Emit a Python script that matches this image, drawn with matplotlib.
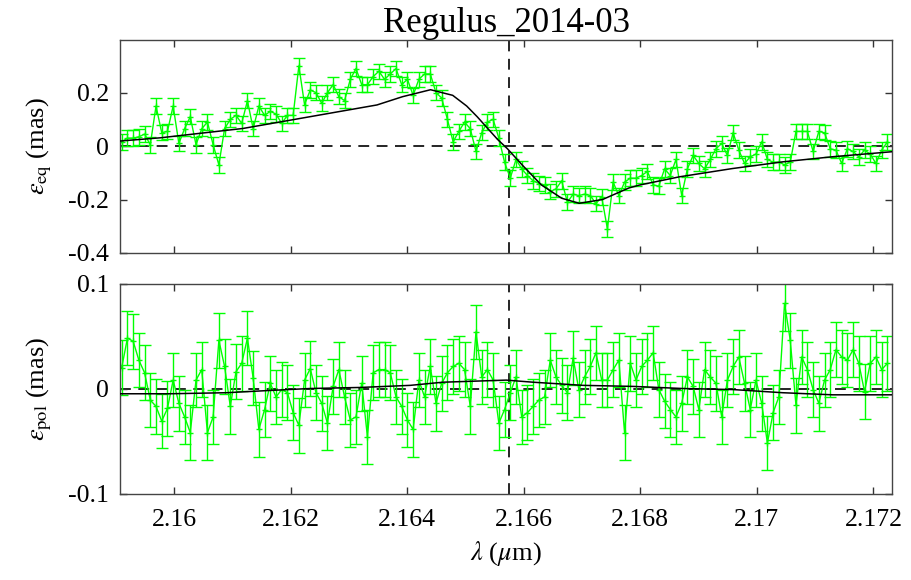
import numpy as np
import matplotlib
matplotlib.use("Agg")
import matplotlib.pyplot as plt
from matplotlib.ticker import FormatStrFormatter

plt.rcParams['font.family'] = ['Liberation Serif', 'DejaVu Serif']
plt.rcParams['mathtext.fontset'] = 'stix'
plt.rcParams['axes.unicode_minus'] = False

# wavelength grid (uniform spectral channels, µm)
wl_first = 2.1591
wl_last = 2.17224
n_chan = 135

# differential phase -> photocentre shift, equatorial component (mas)
eps_eq = [
    0.016, 0.03, 0.03, 0.035, 0.045, 0.005, 0.15, 0.05, 0.055, 0.15,
    0.01, 0.065, 0.11, 0.005, 0.065, 0.09, 0.005, -0.07, 0.065, 0.10,
    0.115, 0.085, 0.17, 0.065, 0.15, 0.115, 0.13, 0.12, 0.085, 0.115,
    0.115, 0.30, 0.155, 0.21, 0.20, 0.16, 0.20, 0.23, 0.185, 0.17,
    0.25, 0.29, 0.23, 0.23, 0.26, 0.28, 0.25, 0.27, 0.29, 0.23,
    0.25, 0.19, 0.25, 0.27, 0.27, 0.20, 0.18, 0.10, 0.016, 0.055,
    0.09, 0.065, -0.02, 0.05, 0.09, 0.10,
    0.03, -0.06, -0.12, -0.05, -0.085, -0.11, -0.13, -0.14, -0.145, -0.17,
    -0.16, -0.13, -0.21, -0.18, -0.185, -0.18, -0.185, -0.215, -0.19, -0.31,
    -0.135, -0.185, -0.135, -0.12, -0.12, -0.11, -0.095, -0.145, -0.15, -0.085,
    -0.11, -0.05, -0.185, -0.085, -0.035, -0.065, -0.085, -0.05, -0.01, 0.01,
    -0.035, 0.05, -0.015, -0.065, -0.04, -0.03, 0.016, -0.05, -0.06, -0.06,
    -0.07, -0.06, 0.055, 0.055, 0.055, -0.02, 0.055, 0.05, -0.01, -0.015,
    -0.065, -0.01, -0.02, -0.04, -0.015, -0.03, -0.065, -0.015, 0.016,
]

# polar component (mas)
eps_pol = [
    0.02, 0.048, 0.045, 0.027, 0.015, -0.011, -0.017, -0.031, -0.019, 0.008,
    -0.014, -0.027, -0.042, 0.008, 0.018, -0.042, -0.027, 0.046, 0.021, -0.017,
    0.016, 0.024, 0.048, 0.01, -0.039, -0.02, 0.005, -0.008, -0.001, -0.004,
    -0.023, -0.035, 0.008, 0.019, -0.004, -0.014, -0.033, 0.002, 0.018, -0.008,
    -0.03, -0.027, 0.005, -0.046, 0.015, 0.018, 0.018, 0.015, -0.008, -0.017,
    -0.03, -0.039, 0.008, -0.008, 0.021, -0.014, 0.005, 0.015, 0.021, 0.024,
    0.018, -0.017, 0.054, 0.011, 0.018, 0.008,
    -0.033, -0.02, -0.004, 0.011, -0.027, -0.023, -0.017, -0.011, -0.008, 0.027,
    0.011, 0.003, -0.004, 0.029, -0.001, 0.011, 0.021, 0.034, 0.008, 0.008,
    0.018, 0.027, -0.042, 0.024, 0.008, 0.021, 0.027, 0.034, -0.001, -0.012,
    -0.02, -0.027, -0.014, 0.011, 0.002, -0.02, 0.018, 0.011, 0.005, -0.027,
    0.008, 0.021, 0.03, 0.005, -0.02, 0.008, -0.014, -0.052, -0.023, -0.008,
    0.081, 0.046, -0.016, 0.03, 0.018, -0.001, -0.014, 0.008, 0.018, 0.037,
    0.03, 0.027, 0.037, 0.024, -0.003, 0.024, 0.03, 0.018, 0.024,
]

err_eq = 0.029
err_pol = 0.026

# rotating-star model curves
model_eq_wl = [2.15907, 2.15976, 2.16118, 2.16233, 2.16348, 2.16392, 2.16440, 2.16478,
               2.16502, 2.16520, 2.16555, 2.16572, 2.16597, 2.16630, 2.16665, 2.16695,
               2.16735, 2.16780, 2.16798, 2.16867, 2.16958, 2.17044, 2.17129, 2.17232]
model_eq = [0.019, 0.031, 0.066, 0.11, 0.154, 0.185, 0.211, 0.19,
            0.15, 0.11, 0.025, -0.01, -0.07, -0.145, -0.195, -0.214,
            -0.20, -0.157, -0.146, -0.115, -0.084, -0.059, -0.04, -0.021]

model_pol_wl = [2.15907, 2.15993, 2.16090, 2.16159, 2.16233, 2.16319, 2.16405, 2.16461,
                2.16570, 2.16616, 2.16702, 2.16788, 2.16873, 2.16959, 2.17044, 2.17130,
                2.17232]
model_pol = [-0.005, -0.005, -0.004, -0.002, 0.0, 0.001, 0.003, 0.006,
             0.008, 0.006, 0.003, 0.002, 0.0, -0.001, -0.004, -0.006,
             -0.006]

line_centre = 2.16575
xlim = (2.15907, 2.17232)
xticks = [2.16, 2.162, 2.164, 2.166, 2.168, 2.17, 2.172]

wl = np.linspace(wl_first, wl_last, n_chan)

fig = plt.figure(figsize=(9.11, 5.80), dpi=100)
ax_eq = fig.add_axes([0.1317, 0.5638, 0.8475, 0.3672])
ax_pol = fig.add_axes([0.1317, 0.1491, 0.8475, 0.3621])

green = '#00ff00'
dash = (0, (6.5, 4.5))

for ax, vals, err, mwl, mvals in [(ax_eq, eps_eq, err_eq, model_eq_wl, model_eq),
                                  (ax_pol, eps_pol, err_pol, model_pol_wl, model_pol)]:
    ax.errorbar(wl, vals, yerr=err, color=green, lw=1.0, elinewidth=1.0,
                capsize=4.5, capthick=1.0, marker='+', markersize=4, zorder=2)
    ax.plot(mwl, mvals, color='black', lw=1.1, zorder=3)
    ax.axhline(0, color='black', lw=1.2, linestyle=dash, zorder=1)
    ax.axvline(line_centre, color='black', lw=1.2, linestyle=dash, zorder=1)
    ax.set_xlim(*xlim)
    ax.set_xticks(xticks)
    ax.tick_params(direction='in', top=True, right=True, length=5, width=1,
                   labelsize=18.5, color='#333333', pad=8)
    ax.tick_params(axis='x', pad=11)
    ax.yaxis.set_major_formatter(FormatStrFormatter('%g'))
    for s in ax.spines.values():
        s.set_color('#444444')
        s.set_linewidth(1.0)

ax_eq.set_ylim(-0.4, 0.397)
ax_eq.set_yticks([-0.4, -0.2, 0, 0.2])
ax_eq.set_xticklabels([])
ax_eq.set_ylabel(r'$\epsilon_{\rm eq}$ (mas)', fontsize=19, labelpad=10)
ax_eq.set_title('Regulus_2014-03', fontsize=25, pad=6)

ax_pol.set_ylim(-0.1, 0.1)
ax_pol.set_yticks([-0.1, 0, 0.1])
ax_pol.xaxis.set_major_formatter(FormatStrFormatter('%g'))
ax_pol.set_ylabel(r'$\epsilon_{\rm pol}$ (mas)', fontsize=19, labelpad=10)
ax_pol.set_xlabel(r'$\lambda$ ($\mu$m)', fontsize=19, labelpad=6)

fig.savefig('out.png', dpi=100)
